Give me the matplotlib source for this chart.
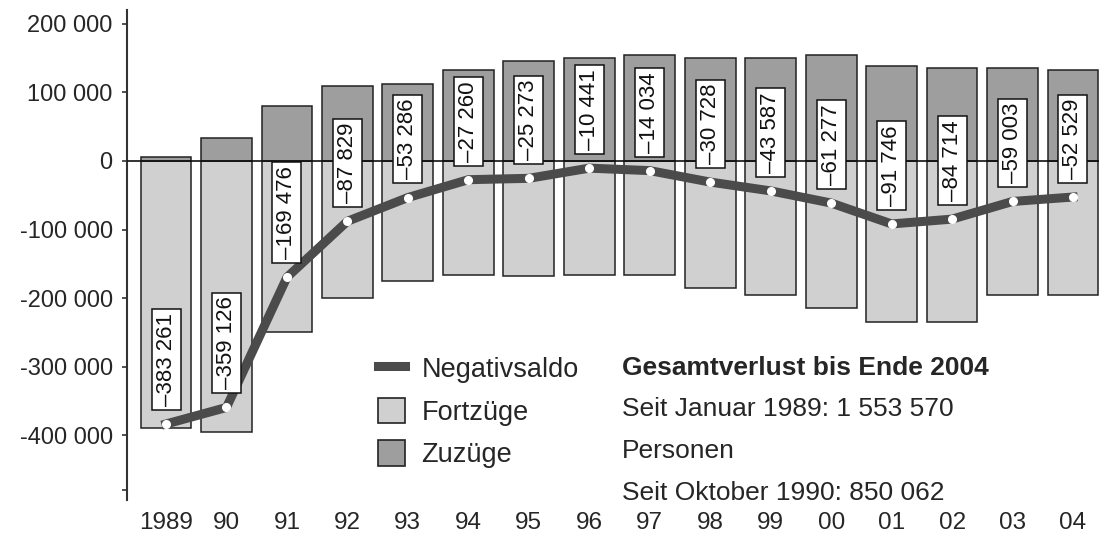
import matplotlib
matplotlib.use("Agg")
import matplotlib.pyplot as plt
import numpy as np
from matplotlib.lines import Line2D
from matplotlib.patches import Patch

plt.rcParams['font.family'] = ['Liberation Sans', 'DejaVu Sans']

# Daten
years = ['1989', '90', '91', '92', '93', '94', '95', '96', '97', '98', '99', '00', '01', '02', '03', '04']
zuzuege = [5100, 33500, 79600, 109800, 112200, 133000, 145300, 149600,
           155000, 149600, 149600, 155000, 138900, 135600, 135600, 132000]
fortzuege = [-388400, -395300, -249700, -199700, -175500, -165700, -168200, -166200,
             -166200, -185700, -195300, -213800, -234300, -234300, -195300, -195300]
saldo = [-383261, -359126, -169476, -87829, -53286, -27260, -25273, -10441,
         -14034, -30728, -43587, -61277, -91746, -84714, -59003, -52529]
saldo_labels = ['\u2013383 261', '\u2013359 126', '\u2013169 476', '\u201387 829', '\u201353 286',
                '\u201327 260', '\u201325 273', '\u201310 441', '\u201314 034', '\u201330 728',
                '\u201343 587', '\u201361 277', '\u201391 746', '\u201384 714', '\u201359 003',
                '\u201352 529']
yticks = [200000, 100000, 0, -100000, -200000, -300000, -400000, -480000]
ytick_labels = ['200 000', '100 000', '0', '-100 000', '-200 000', '-300 000', '-400 000', '']
info_lines = ['Gesamtverlust bis Ende 2004', 'Seit Januar 1989: 1 553 570',
              'Personen', 'Seit Oktober 1990: 850 062']

c_fort = '#d0d0d0'
c_zu = '#9e9e9e'
c_line = '#4b4b4b'
c_edge = '#222222'
c_text = '#262626'

W, H = 1099, 540
fig = plt.figure(figsize=(W / 100, H / 100), dpi=100)
ax = fig.add_axes([127 / W, 40 / H, (W - 127) / W, 490 / H])

x = np.arange(len(years))
ax.bar(x, fortzuege, width=0.84, color=c_fort, edgecolor=c_edge, linewidth=1.1, zorder=2)
ax.bar(x, zuzuege, width=0.84, color=c_zu, edgecolor=c_edge, linewidth=1.1, zorder=2)
ax.axhline(0, color='#111111', linewidth=1.2, zorder=3)
ax.plot(x, saldo, color=c_line, linewidth=6.5, marker='o', markersize=5.5,
        markerfacecolor='white', markeredgecolor='white', zorder=4)

for xi, v, lab in zip(x, saldo, saldo_labels):
    ax.annotate(lab, (xi, v), xytext=(0, 13), textcoords='offset points',
                rotation=90, ha='center', va='bottom', fontsize=16, color='#111111',
                bbox=dict(boxstyle='square,pad=0.18', fc='white', ec='#111111', lw=1.1),
                zorder=5)

ax.set_xlim(-0.645, 15.43)
ax.set_ylim(-494000, 220000)
for s in ['top', 'right', 'bottom']:
    ax.spines[s].set_visible(False)
ax.spines['left'].set_color('#333333')
ax.spines['left'].set_linewidth(1.5)

ax.set_yticks(yticks, ytick_labels)
ax.set_xticks(x, years)
ax.tick_params(axis='y', length=3.8, width=1.2, color='#333333', pad=6.5,
               labelsize=17, labelcolor=c_text)
ax.tick_params(axis='x', length=0, pad=8.5, labelsize=17.5, labelcolor=c_text)

handles = [Line2D([0], [0], color=c_line, linewidth=6.5),
           Patch(facecolor=c_fort, edgecolor=c_edge, linewidth=1.2),
           Patch(facecolor=c_zu, edgecolor=c_edge, linewidth=1.2)]
fig.legend(handles, ['Negativsaldo', 'Fortzüge', 'Zuzüge'], loc='upper left',
           bbox_to_anchor=(378 / W, 1 - 355 / H), frameon=False, borderpad=0,
           borderaxespad=0, fontsize=19.5, handlelength=1.0, handleheight=1.05,
           handletextpad=0.6, labelspacing=0.55, labelcolor=c_text)

for i, line in enumerate(info_lines):
    fig.text(622 / W, 1 - (368 + 41.5 * i) / H, line, fontsize=19, color=c_text,
             va='center', ha='left', fontweight='bold' if i == 0 else 'normal')

fig.savefig('out.png', dpi=100)
